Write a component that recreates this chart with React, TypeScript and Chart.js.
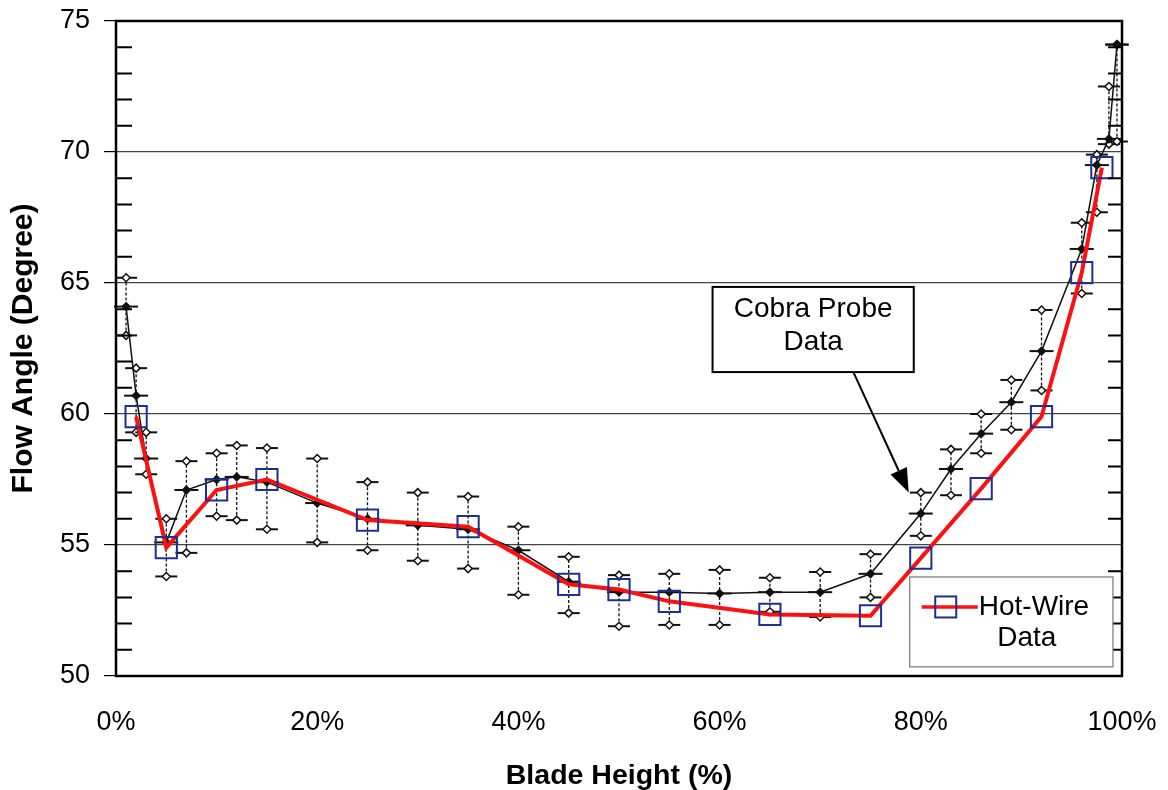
import React, { useEffect, useRef } from "react";
import { Chart, registerables } from "chart.js";

Chart.register(...registerables);

const FONT = 'Arial, "Liberation Sans", Helvetica, sans-serif';

// ---- data ----
const xTickValues = [0, 20, 40, 60, 80, 100];
const yTickValues = [50, 55, 60, 65, 70, 75];

const hotWireHeight = [2, 5, 10, 15, 25, 35, 45, 50, 55, 65, 75, 80, 86, 92, 96, 98];
const hotWireAngle = [59.9, 54.9, 57.1, 57.5, 55.95, 55.7, 53.5, 53.3, 52.85, 52.35, 52.3, 54.5, 57.15, 59.9, 65.4, 69.4];

const cobraHeight = [1, 2, 3, 5, 7, 10, 12, 15, 20, 25, 30, 35, 40, 45, 50, 55, 60, 65, 70, 75, 80, 83, 86, 89, 92, 96, 97.5, 98.7, 99.5];
const cobraMean = [64.1, 60.7, 58.3, 55.1, 57.1, 57.5, 57.6, 57.4, 56.6, 56.0, 55.75, 55.6, 54.8, 53.6, 53.2, 53.2, 53.15, 53.2, 53.2, 53.9, 56.2, 57.9, 59.25, 60.45, 62.4, 66.3, 69.5, 70.5, 74.1];
const cobraMin = [63.0, 59.3, 57.7, 53.8, 54.7, 56.1, 55.95, 55.6, 55.1, 54.8, 54.4, 54.1, 53.1, 52.4, 51.9, 51.95, 51.95, 52.45, 52.25, 53.0, 55.35, 56.9, 58.5, 59.4, 60.9, 64.6, 67.7, 70.3, 70.4];
const cobraMax = [65.2, 61.75, 59.3, 56.0, 58.2, 58.5, 58.8, 58.7, 58.3, 57.4, 57.0, 56.85, 55.7, 54.55, 53.85, 53.9, 54.05, 53.75, 53.97, 54.65, 57.0, 58.65, 60.0, 61.3, 63.97, 67.3, 69.9, 72.5, 74.1];

const xAxisTitle = "Blade Height (%)";
const yAxisTitle = "Flow Angle (Degree)";
const cobraLabel = ["Cobra Probe", "Data"];
const hotWireLabel = ["Hot-Wire", "Data"];

const HOT_RED = "#ff1010";
const HOT_BLUE = "#1f2f8f";

function diamond(ctx: CanvasRenderingContext2D, x: number, y: number, r: number, fill: string) {
  ctx.beginPath();
  ctx.moveTo(x, y - r);
  ctx.lineTo(x + r, y);
  ctx.lineTo(x, y + r);
  ctx.lineTo(x - r, y);
  ctx.closePath();
  ctx.fillStyle = fill;
  ctx.fill();
  ctx.stroke();
}

const errorBarPlugin = {
  id: "errorBars",
  beforeDatasetsDraw(chart: any) {
    const { ctx, scales } = chart;
    const xs = scales.x;
    const ys = scales.y;
    ctx.save();
    ctx.strokeStyle = "#111";
    for (let i = 0; i < cobraHeight.length; i++) {
      const px = xs.getPixelForValue(cobraHeight[i]);
      const pMin = ys.getPixelForValue(cobraMin[i]);
      const pMax = ys.getPixelForValue(cobraMax[i]);
      const pMean = ys.getPixelForValue(cobraMean[i]);
      ctx.lineWidth = 1.3;
      ctx.setLineDash([3, 2]);
      ctx.beginPath();
      ctx.moveTo(px, pMin);
      ctx.lineTo(px, pMax);
      ctx.stroke();
      ctx.setLineDash([]);
      ctx.lineWidth = 2;
      for (const p of [pMin, pMax]) {
        ctx.beginPath();
        ctx.moveTo(px - 11, p);
        ctx.lineTo(px + 11, p);
        ctx.stroke();
      }
      ctx.lineWidth = 1.5;
      diamond(ctx, px, pMin, 4, "#fff");
      diamond(ctx, px, pMax, 4, "#fff");
      ctx.lineWidth = 2;
      ctx.beginPath();
      ctx.moveTo(px - 12, pMean);
      ctx.lineTo(px + 12, pMean);
      ctx.stroke();
      diamond(ctx, px, pMean, 3.5, "#111");
    }
    ctx.restore();
  },
};

const framePlugin = {
  id: "frameAndNotes",
  afterDraw(chart: any) {
    const { ctx, chartArea, scales } = chart;
    const xs = scales.x;
    const ys = scales.y;
    const { left, right, top, bottom } = chartArea;
    ctx.save();
    // minor ticks
    ctx.strokeStyle = "#000";
    ctx.lineWidth = 2;
    for (let v = 51; v < 75; v++) {
      if (v % 5 === 0) continue;
      const py = ys.getPixelForValue(v);
      ctx.beginPath();
      ctx.moveTo(left, py);
      ctx.lineTo(left + 16, py);
      ctx.moveTo(right - 14, py);
      ctx.lineTo(right, py);
      ctx.stroke();
    }
    // frame
    ctx.lineWidth = 2.5;
    ctx.strokeRect(left, top, right - left, bottom - top);

    // Cobra Probe callout
    const bx1 = xs.getPixelForValue(59.3);
    const bx2 = xs.getPixelForValue(79.3);
    const by1 = ys.getPixelForValue(64.85);
    const by2 = ys.getPixelForValue(61.6);
    ctx.fillStyle = "#fff";
    ctx.fillRect(bx1, by1, bx2 - bx1, by2 - by1);
    ctx.lineWidth = 2;
    ctx.strokeStyle = "#000";
    ctx.strokeRect(bx1, by1, bx2 - bx1, by2 - by1);
    ctx.fillStyle = "#000";
    ctx.font = `28px ${FONT}`;
    ctx.textAlign = "center";
    ctx.textBaseline = "middle";
    const bcx = (bx1 + bx2) / 2;
    ctx.fillText(cobraLabel[0], bcx, by1 + 22);
    ctx.fillText(cobraLabel[1], bcx, by1 + 55);
    // arrow
    const ax1 = xs.getPixelForValue(73.3);
    const ay1 = by2;
    const ax2 = xs.getPixelForValue(78.8);
    const ay2 = ys.getPixelForValue(57.0);
    const ang = Math.atan2(ay2 - ay1, ax2 - ax1);
    const headLen = 24;
    const headW = 9;
    const hbx = ax2 - headLen * Math.cos(ang);
    const hby = ay2 - headLen * Math.sin(ang);
    ctx.lineWidth = 2;
    ctx.beginPath();
    ctx.moveTo(ax1, ay1);
    ctx.lineTo(hbx, hby);
    ctx.stroke();
    ctx.beginPath();
    ctx.moveTo(ax2, ay2);
    ctx.lineTo(hbx + headW * Math.sin(ang), hby - headW * Math.cos(ang));
    ctx.lineTo(hbx - headW * Math.sin(ang), hby + headW * Math.cos(ang));
    ctx.closePath();
    ctx.fill();

    // Hot-wire legend box
    const lx1 = xs.getPixelForValue(78.9);
    const lx2 = xs.getPixelForValue(99.1);
    const ly1 = ys.getPixelForValue(53.78);
    const ly2 = ys.getPixelForValue(50.35);
    ctx.fillStyle = "#fff";
    ctx.fillRect(lx1, ly1, lx2 - lx1, ly2 - ly1);
    ctx.strokeStyle = "#777";
    ctx.lineWidth = 1.2;
    ctx.strokeRect(lx1, ly1, lx2 - lx1, ly2 - ly1);
    const rowY = ly1 + 30;
    ctx.strokeStyle = HOT_RED;
    ctx.lineWidth = 3.5;
    ctx.beginPath();
    ctx.moveTo(lx1 + 12, rowY);
    ctx.lineTo(lx1 + 68, rowY);
    ctx.stroke();
    ctx.strokeStyle = HOT_BLUE;
    ctx.lineWidth = 2;
    ctx.strokeRect(lx1 + 36 - 10.5, rowY - 10.5, 21, 21);
    ctx.fillStyle = "#000";
    ctx.font = `28px ${FONT}`;
    ctx.textAlign = "left";
    ctx.fillText(hotWireLabel[0], lx1 + 69, rowY);
    ctx.textAlign = "center";
    ctx.fillText(hotWireLabel[1], lx1 + 117, rowY + 31);
    ctx.restore();
  },
};

export default function App() {
  const ref = useRef<HTMLCanvasElement | null>(null);
  useEffect(() => {
    document.body.style.margin = "0";
    const canvas = ref.current;
    if (!canvas) return;
    const chart = new Chart(canvas, {
      type: "scatter",
      data: {
        datasets: [
          {
            label: "Hot-Wire Data",
            data: hotWireHeight.map((x, i) => ({ x, y: hotWireAngle[i] })),
            showLine: true,
            borderColor: HOT_RED,
            borderWidth: 4,
            pointStyle: "rect",
            pointRadius: 15,
            pointBorderColor: HOT_BLUE,
            pointBackgroundColor: "rgba(0,0,0,0)",
            pointBorderWidth: 2,
            order: 1,
          },
          {
            label: "Cobra Probe Data",
            data: cobraHeight.map((x, i) => ({ x, y: cobraMean[i] })),
            showLine: true,
            borderColor: "#111",
            borderWidth: 1.5,
            pointRadius: 0,
            order: 2,
          },
        ],
      },
      options: {
        responsive: false,
        animation: false,
        layout: { padding: { top: 21, right: 46, bottom: 0, left: 0 } },
        plugins: {
          legend: { display: false },
          tooltip: { enabled: false },
        },
        scales: {
          x: {
            type: "linear",
            min: 0,
            max: 100,
            afterBuildTicks: (scale: any) => {
              scale.ticks = xTickValues.map((v) => ({ value: v }));
            },
            afterFit: (scale: any) => {
              scale.height = 114;
              scale.paddingLeft = 0;
              scale.paddingRight = 0;
            },
            grid: { display: false, drawTicks: false },
            border: { display: false },
            ticks: {
              padding: 30,
              color: "#000",
              font: { family: FONT, size: 27 },
              callback: (v: any) => `${v}%`,
            },
            title: {
              display: true,
              text: xAxisTitle,
              color: "#000",
              font: { family: FONT, size: 28.5, weight: "bold", lineHeight: 1.0 },
              padding: { top: 0, bottom: 0 },
            },
          },
          y: {
            type: "linear",
            min: 50,
            max: 75,
            afterBuildTicks: (scale: any) => {
              scale.ticks = yTickValues.map((v) => ({ value: v }));
            },
            afterFit: (scale: any) => {
              scale.width = 116;
              scale.paddingTop = 0;
              scale.paddingBottom = 0;
            },
            grid: {
              color: "#444",
              lineWidth: 1.2,
              drawTicks: true,
              tickLength: 12,
              tickColor: "#000",
            },
            border: { display: false },
            ticks: {
              padding: 14,
              color: "#000",
              font: { family: FONT, size: 27 },
            },
            title: {
              display: true,
              text: yAxisTitle,
              color: "#000",
              font: { family: FONT, size: 30, weight: "bold", lineHeight: 1.0 },
              padding: { top: 9, bottom: 0 },
            },
          },
        },
      },
      plugins: [errorBarPlugin, framePlugin],
    } as any);
    return () => chart.destroy();
  }, []);
  return (
    <div style={{ position: "fixed", left: 0, top: 0, width: 1168, height: 790, background: "#fff" }}>
      <canvas ref={ref} width={1168} height={790} />
    </div>
  );
}
